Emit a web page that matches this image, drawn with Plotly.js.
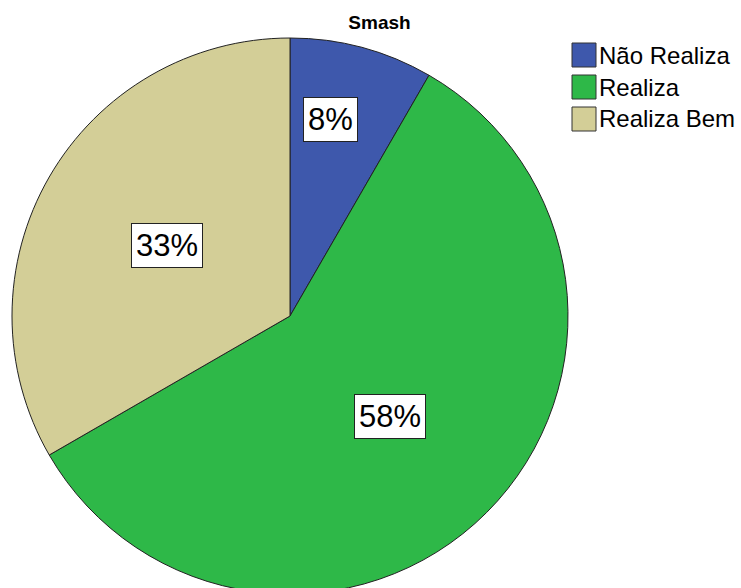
<!DOCTYPE html>
<html>
<head>
<meta charset="utf-8">
<script src="https://cdn.plot.ly/plotly-3.0.1.min.js"></script>
<style>
html,body{margin:0;padding:0;overflow:hidden;background:#fff;}
#chart{width:741px;height:640px;}
</style>
</head>
<body>
<div id="chart"></div>
<script>
// Data
const categories = ['Não Realiza', 'Realiza', 'Realiza Bem'];
const counts = [1, 7, 4];
const colors = ['#3E58AC', '#2EB848', '#D3CE97'];
const chartTitle = 'Smash';

const W = 741, H = 640;
const FONT = 'Liberation Sans, Arial, sans-serif';

// pie geometry (pixels)
const pcx = 290, pcy = 316, pR = 278;
const domX = [(pcx - pR) / W, (pcx + pR) / W];
const domY = [1 - (pcy + pR) / H, 1 - (pcy - pR) / H];

const total = counts.reduce((a, b) => a + b, 0);
const pctText = counts.map(v => Math.round(v / total * 100) + '%');

// label annotations placed from data (mid-angle of each slice)
const annotations = [];
let cum = 0;
counts.forEach((v, i) => {
  const frac = v / total;
  const mid = (cum + frac / 2) * 2 * Math.PI; // clockwise from 12 o'clock
  cum += frac;
  const small = frac < 0.15;
  const rf = small ? 0.72 : 0.51;
  const ang = small ? mid * 0.77 : mid;
  const px = pcx + rf * pR * Math.sin(ang);
  const py = pcy - rf * pR * Math.cos(ang);
  annotations.push({
    xref: 'paper', yref: 'paper', x: px / W, y: 1 - py / H,
    xanchor: 'center', yanchor: 'middle', showarrow: false,
    text: pctText[i],
    font: {family: FONT, size: 31, color: '#000'},
    bgcolor: '#fff', bordercolor: '#222', borderwidth: 1, borderpad: 4
  });
});

// custom legend (large square swatches)
const shapes = [];
const lgX = 572, lgY = 43, sw = 24, rowH = 32;
categories.forEach((c, i) => {
  const y0 = lgY + i * rowH;
  shapes.push({
    type: 'rect', xref: 'paper', yref: 'paper',
    x0: lgX / W, x1: (lgX + sw) / W, y0: 1 - y0 / H, y1: 1 - (y0 + sw) / H,
    fillcolor: colors[i], line: {color: '#333', width: 1}
  });
  annotations.push({
    xref: 'paper', yref: 'paper', x: (lgX + sw + 1) / W, y: 1 - (y0 + sw / 2) / H,
    xanchor: 'left', yanchor: 'middle', showarrow: false,
    text: c, font: {family: FONT, size: 24, color: '#000'}
  });
});

const trace = {
  type: 'pie',
  labels: categories,
  values: counts,
  sort: false,
  direction: 'clockwise',
  rotation: 0,
  marker: {colors: colors, line: {color: '#222', width: 1}},
  textinfo: 'none',
  hoverinfo: 'none',
  showlegend: false,
  domain: {x: domX, y: domY}
};

const layout = {
  width: W, height: H,
  margin: {l: 0, r: 0, t: 0, b: 0},
  paper_bgcolor: '#fff',
  showlegend: false,
  title: {
    text: '<b>' + chartTitle + '</b>',
    font: {family: FONT, size: 19, color: '#000'},
    x: 379.5 / W, xanchor: 'center', xref: 'paper',
    y: 1 - 22 / H, yanchor: 'middle', yref: 'container'
  },
  annotations: annotations,
  shapes: shapes
};

Plotly.newPlot('chart', [trace], layout, {staticPlot: true, displayModeBar: false});
</script>
</body>
</html>
